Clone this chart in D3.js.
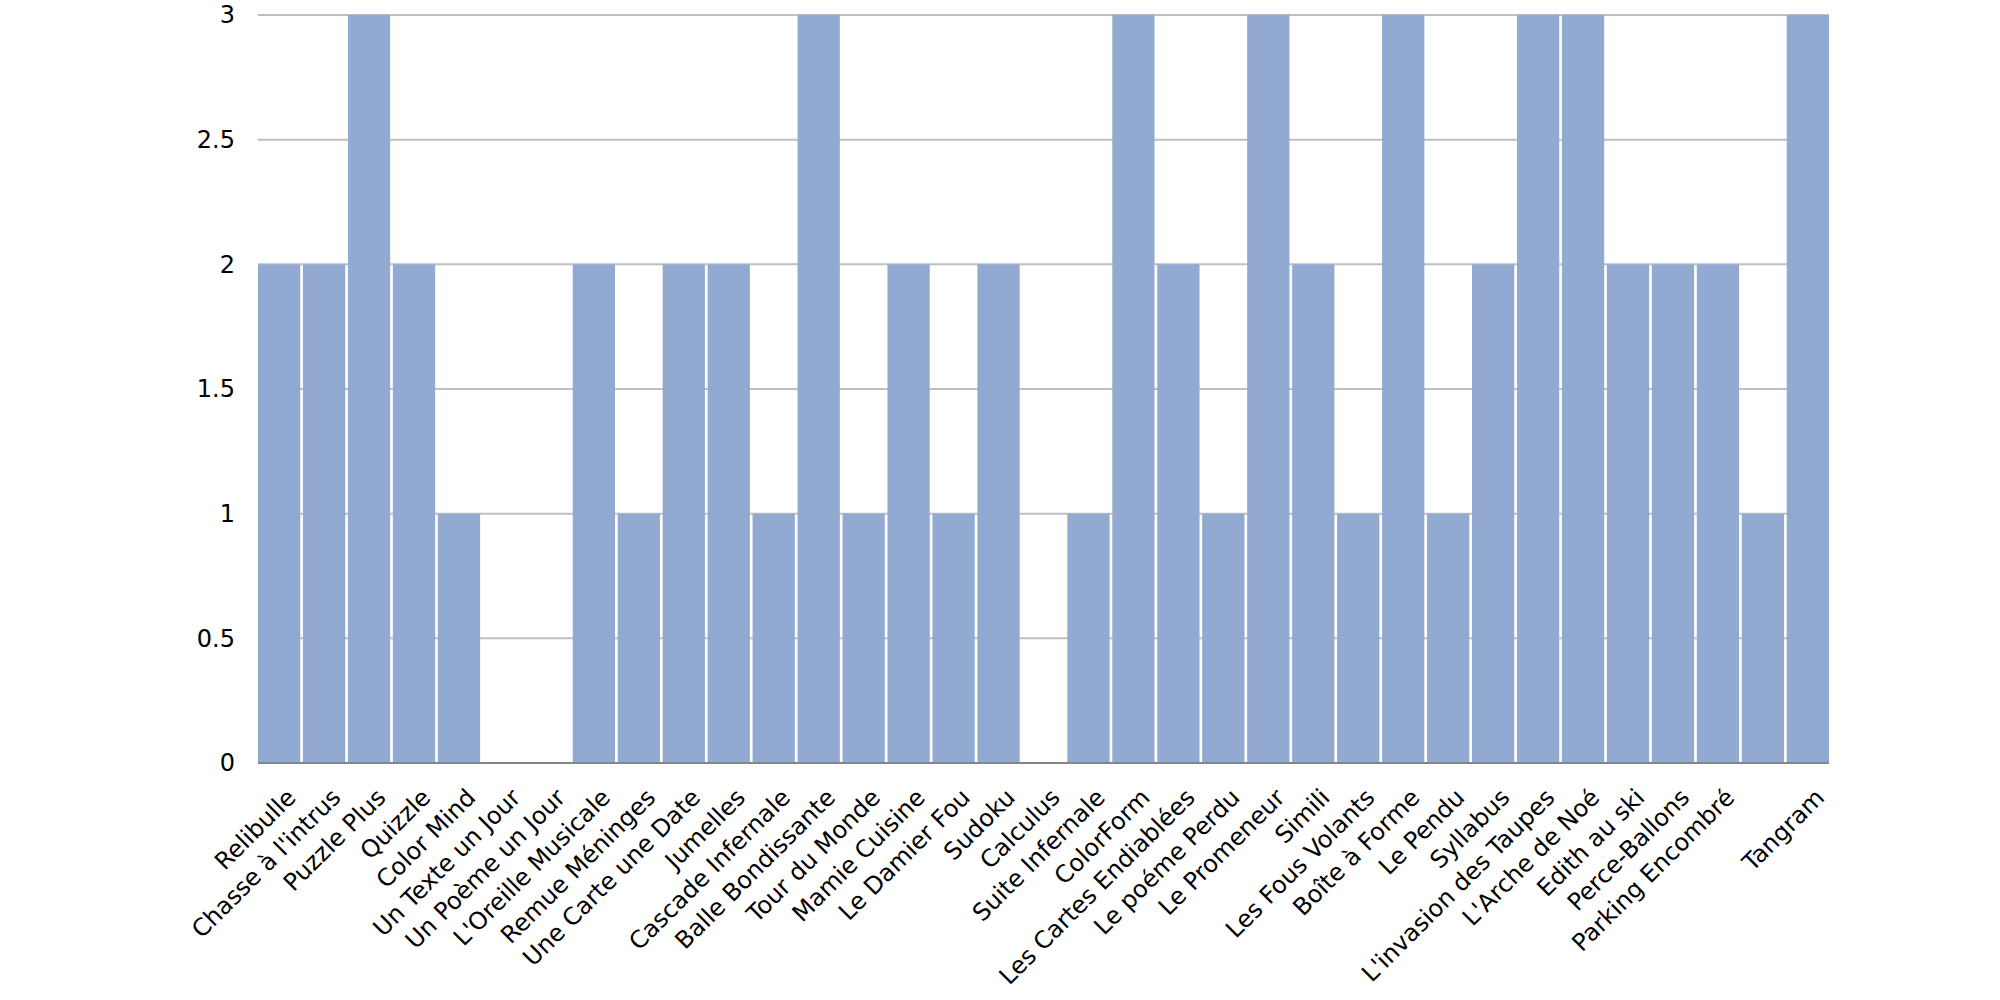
<!DOCTYPE html>
<html>
<head>
<meta charset="utf-8">
<script src="https://cdn.jsdelivr.net/npm/d3@7"></script>
<style>
  body { margin: 0; background: #fff; }
  text { font-family: "DejaVu Sans", sans-serif; fill: #000; }
</style>
</head>
<body>
<div id="chart"></div>
<script>
// jeux et niveau (0-3)
const jeux = [
  "Relibulle", "Chasse à l'intrus", "Puzzle Plus", "Quizzle", "Color Mind",
  "Un Texte un Jour", "Un Poème un Jour", "L'Oreille Musicale", "Remue Méninges",
  "Une Carte une Date", "Jumelles", "Cascade Infernale", "Balle Bondissante",
  "Tour du Monde", "Mamie Cuisine", "Le Damier Fou", "Sudoku", "Calculus",
  "Suite Infernale", "ColorForm", "Les Cartes Endiablées", "Le poéme Perdu",
  "Le Promeneur", "Simili", "Les Fous Volants", "Boîte à Forme", "Le Pendu",
  "Syllabus", "L'invasion des Taupes", "L'Arche de Noé", "Edith au ski",
  "Perce-Ballons", "Parking Encombré", "", "Tangram"
];
const niveaux = [
  2, 2, 3, 2, 1, 0, 0, 2, 1, 2, 2, 1, 3, 1, 2, 1, 2, 0,
  1, 3, 2, 1, 3, 2, 1, 3, 1, 2, 3, 3, 2, 2, 2, 1, 3
];
const yTicks = [0, 0.5, 1, 1.5, 2, 2.5, 3];

const couleurs = {
  barre: "#92a9d1",
  grille: "#bfbfbf",
  axe: "#868686"
};

function chart() {
  const width = 2000;
  const height = 1000;
  const margin = {top: 15, right: 171, bottom: 237, left: 258};

  const svg = d3.select("#chart").append("svg")
      .attr("width", width)
      .attr("height", height);

  // index as band key, since one label is empty
  const x = d3.scaleBand()
      .domain(d3.range(jeux.length))
      .range([margin.left, width - margin.right])
      .paddingInner(0.06)
      .paddingOuter(0);

  const y = d3.scaleLinear()
      .domain([0, 3])
      .range([height - margin.bottom, margin.top]);

  // grid
  svg.append("g")
    .selectAll("line")
    .data(yTicks.filter(d => d > 0))
    .join("line")
      .attr("x1", margin.left)
      .attr("x2", width - margin.right)
      .attr("y1", d => y(d))
      .attr("y2", d => y(d))
      .attr("stroke", couleurs.grille)
      .attr("stroke-width", 2);

  // y labels
  svg.append("g")
    .selectAll("text")
    .data(yTicks)
    .join("text")
      .attr("x", 235)
      .attr("y", d => y(d))
      .attr("dy", "0.35em")
      .attr("text-anchor", "end")
      .attr("font-size", 24)
      .text(d => d);

  // bars
  svg.append("g")
    .selectAll("rect")
    .data(niveaux)
    .join("rect")
      .attr("x", (d, i) => x(i))
      .attr("y", d => y(d))
      .attr("width", x.bandwidth())
      .attr("height", d => y(0) - y(d))
      .attr("fill", couleurs.barre);

  // axe 0
  svg.append("line")
      .attr("x1", margin.left)
      .attr("x2", width - margin.right)
      .attr("y1", y(0))
      .attr("y2", y(0))
      .attr("stroke", couleurs.axe)
      .attr("stroke-width", 2);

  // x labels, rotated
  svg.append("g")
    .selectAll("text")
    .data(jeux)
    .join("text")
      .attr("text-anchor", "end")
      .attr("font-size", 24)
      .attr("transform", (d, i) => {
        const cx = x(i) + x.bandwidth() / 2 + 12;
        return `translate(${cx},${y(0) + 30}) rotate(-45)`;
      })
      .attr("dy", "0.35em")
      .text(d => d);

  return svg.node();
}

chart();
</script>
</body>
</html>
